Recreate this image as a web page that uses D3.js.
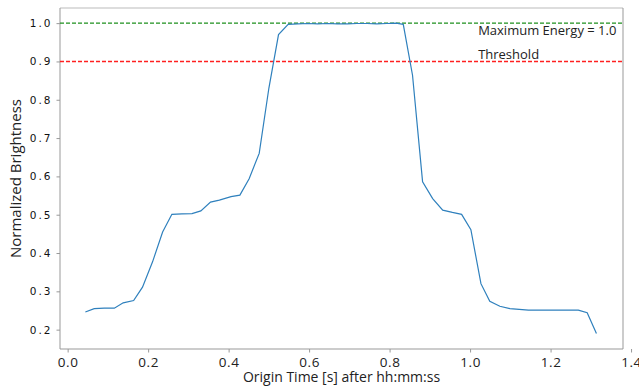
<!DOCTYPE html>
<html>
<head>
<meta charset="utf-8">
<script src="https://cdn.jsdelivr.net/npm/d3@7"></script>
<style>
  html, body { margin: 0; padding: 0; background: #fff; }
</style>
</head>
<body>
<div id="chart"></div>
<script>
// =========================
// DATA
// =========================
const times = [
    0.044, 0.066, 0.091, 0.116, 0.138, 0.164, 0.186, 0.211, 0.236, 0.259,
    0.284, 0.309, 0.331, 0.355, 0.377, 0.406, 0.428, 0.451, 0.476, 0.500,
    0.524, 0.548, 0.572, 0.597, 0.621, 0.646, 0.670, 0.695, 0.719, 0.744,
    0.768, 0.793, 0.816, 0.834, 0.857, 0.882, 0.907, 0.932, 0.956, 0.979,
    1.002, 1.027, 1.049, 1.074, 1.099, 1.122, 1.145, 1.170, 1.195, 1.220,
    1.245, 1.269, 1.291, 1.314
];
const brightness = [
    0.246, 0.255, 0.256, 0.256, 0.270, 0.276, 0.311, 0.377, 0.455, 0.501,
    0.502, 0.503, 0.510, 0.533, 0.538, 0.547, 0.551, 0.594, 0.660, 0.830,
    0.970, 0.997, 0.998, 0.999, 0.998, 0.999, 0.998, 0.998, 0.999, 0.999,
    0.998, 0.999, 1.000, 0.997, 0.864, 0.586, 0.542, 0.512, 0.506, 0.501,
    0.461, 0.320, 0.274, 0.261, 0.255, 0.253, 0.251, 0.251, 0.251, 0.251,
    0.251, 0.251, 0.244, 0.190
];
const xTicks = [0.0, 0.2, 0.4, 0.6, 0.8, 1.0, 1.2, 1.4];
const yTicks = [0.2, 0.3, 0.4, 0.5, 0.6, 0.7, 0.8, 0.9, 1.0];
const maxEnergy = 1.0;
const threshold = 0.9;

const data = times.map((t, i) => ({ t: t, v: brightness[i] }));

// =========================
// SETUP
// =========================
const width = 639, height = 388;
const margin = { top: 8, right: 16, bottom: 39, left: 60 };
const innerWidth = width - margin.left - margin.right;
const innerHeight = height - margin.top - margin.bottom;

const svg = d3.select("#chart")
    .append("svg")
    .attr("width", width)
    .attr("height", height);

const chart = svg.append("g")
    .attr("transform", `translate(${margin.left}, ${margin.top})`);

// =========================
// SCALES
// =========================
const xScale = d3.scaleLinear()
    .domain([-0.019, 1.380])
    .range([0, innerWidth]);

const yScale = d3.scaleLinear()
    .domain([0.1495, 1.0395])
    .range([innerHeight, 0]);

// =========================
// AXES
// =========================
const xAxis = chart.append("g")
    .attr("transform", `translate(0, ${innerHeight})`)
    .call(d3.axisBottom(xScale).tickValues(xTicks).tickFormat(d3.format(".1f")).tickSize(3.5).tickPadding(5));
xAxis.select(".domain").remove();
xAxis.selectAll("line").attr("stroke", "#999");
xAxis.selectAll("text")
    .attr("fill", "#222")
    .style("font-family", "'Open Sans', sans-serif")
    .style("font-size", "13.5px")
    .style("letter-spacing", "0.6px");

const yAxis = chart.append("g")
    .call(d3.axisLeft(yScale).tickValues(yTicks).tickFormat(d3.format(".1f")).tickSize(3.5).tickPadding(4));
yAxis.select(".domain").remove();
yAxis.selectAll("line").attr("stroke", "#999");
yAxis.selectAll("text")
    .attr("fill", "#111")
    .style("font-family", "'DejaVu Sans', sans-serif")
    .style("font-size", "10.5px")
    .style("letter-spacing", "2px");

// frame
chart.append("line").attr("x1", 0).attr("x2", innerWidth).attr("y1", 0).attr("y2", 0).attr("stroke", "#bbb");
chart.append("line").attr("x1", innerWidth).attr("x2", innerWidth).attr("y1", 0).attr("y2", innerHeight).attr("stroke", "#999");
chart.append("line").attr("x1", 0).attr("x2", 0).attr("y1", 0).attr("y2", innerHeight).attr("stroke", "#999");
chart.append("line").attr("x1", 0).attr("x2", innerWidth).attr("y1", innerHeight).attr("y2", innerHeight).attr("stroke", "#999");

// =========================
// REFERENCE LINES
// =========================
chart.append("line")
    .attr("x1", 0).attr("x2", innerWidth)
    .attr("y1", yScale(maxEnergy)).attr("y2", yScale(maxEnergy))
    .attr("stroke", "#1e901e")
    .attr("stroke-width", 1.4)
    .attr("stroke-dasharray", "4,2");

chart.append("line")
    .attr("x1", 0).attr("x2", innerWidth)
    .attr("y1", yScale(threshold)).attr("y2", yScale(threshold))
    .attr("stroke", "#ff2020")
    .attr("stroke-width", 1.4)
    .attr("stroke-dasharray", "4,2");

// =========================
// LINE
// =========================
const line = d3.line()
    .x(d => xScale(d.t))
    .y(d => yScale(d.v));

chart.append("path")
    .datum(data)
    .attr("fill", "none")
    .attr("stroke", "#2f80bd")
    .attr("stroke-width", 1.2)
    .attr("d", line);

// =========================
// ANNOTATIONS
// =========================
chart.append("text")
    .attr("x", xScale(1.02))
    .attr("y", yScale(maxEnergy) + 12)
    .style("font-family", "'Open Sans', sans-serif")
    .style("font-size", "13px")
    .attr("fill", "#222")
    .text("Maximum Energy = 1.0");

chart.append("text")
    .attr("x", xScale(1.02))
    .attr("y", yScale(threshold) - 2)
    .style("font-family", "'Open Sans', sans-serif")
    .style("font-size", "13px")
    .attr("fill", "#222")
    .text("Threshold");

// =========================
// LABELS
// =========================
svg.append("text")
    .attr("x", margin.left + innerWidth / 2)
    .attr("y", 382)
    .attr("text-anchor", "middle")
    .style("font-family", "'Open Sans', sans-serif")
    .style("font-size", "14px")
    .attr("fill", "#222")
    .text("Origin Time [s] after hh:mm:ss");

svg.append("text")
    .attr("transform", "rotate(-90)")
    .attr("x", -(margin.top + innerHeight / 2))
    .attr("y", 21)
    .attr("text-anchor", "middle")
    .style("font-family", "'Open Sans', sans-serif")
    .style("font-size", "15px")
    .attr("fill", "#222")
    .text("Normalized Brightness");
</script>
</body>
</html>
